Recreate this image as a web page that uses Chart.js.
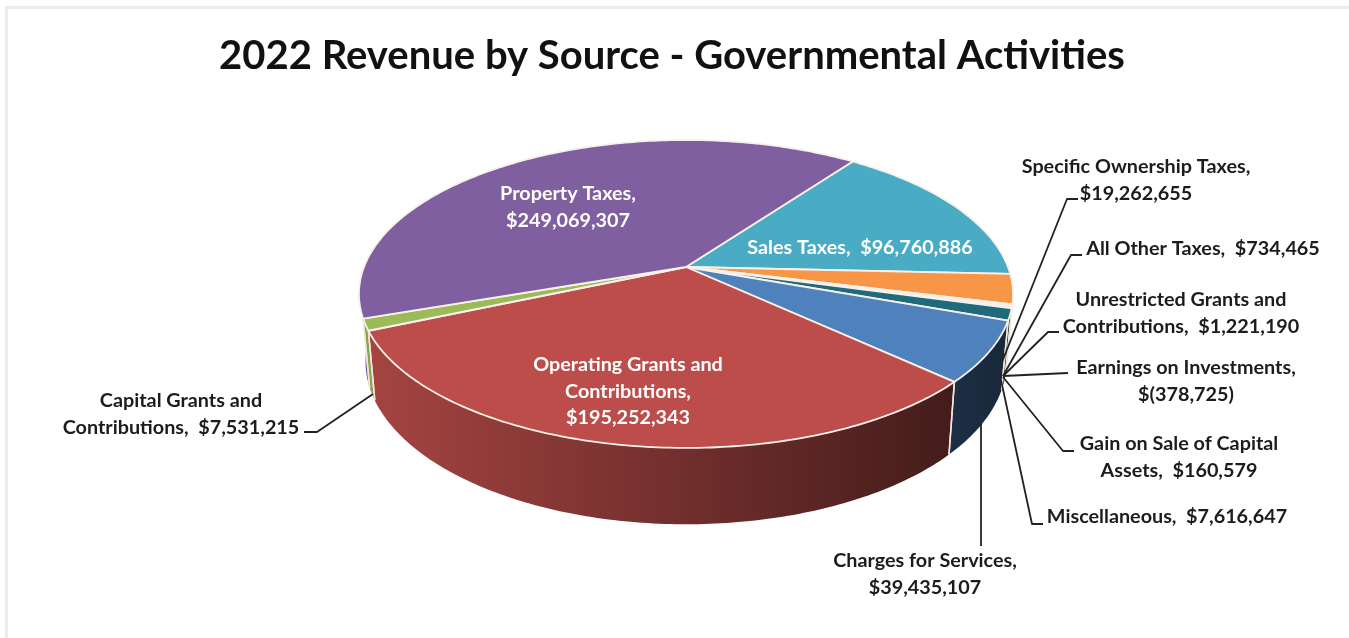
<!DOCTYPE html>
<html>
<head>
  <title>2022 Revenue by Source</title>
  <script src="https://cdn.jsdelivr.net/npm/chart.js"></script>
  <style>
    html, body { margin: 0; background: #fff; }
    #wrap { position: relative; width: 1349px; height: 638px; overflow: hidden; }
    #frame { position: absolute; left: 5px; top: 6px; width: 1341px; height: 640px; border: 3px solid #ececec; }
    canvas { position: absolute; left: 0; top: 0; }
  </style>
</head>
<body>
  <div id="wrap">
    <div id="frame"></div>
    <canvas id="myChart" width="1349" height="638"></canvas>
  </div>
  <script>
    const chartTitle = '2022 Revenue by Source - Governmental Activities';

    const categories = ['Sales Taxes', 'Specific Ownership Taxes', 'All Other Taxes',
      'Unrestricted Grants and Contributions', 'Earnings on Investments',
      'Gain on Sale of Capital Assets', 'Miscellaneous', 'Charges for Services',
      'Operating Grants and Contributions', 'Capital Grants and Contributions', 'Property Taxes'];
    const revenue = [96760886, 19262655, 734465, 1221190, -378725, 160579, 7616647,
      39435107, 195252343, 7531215, 249069307];
    const sliceColors = ['#4aabc5', '#f79646', '#e6c3a8', '#d8c8b0', '#8a8a8a', '#a9b8cf', '#1f6a7c',
      '#4f81bd', '#bc4d4a', '#9bbb59', '#7f5f9f'];

    // how each slice label wraps, {v} is the formatted amount
    const labelLines = [
      ['Sales Taxes,  {v}'],
      ['Specific Ownership Taxes,', '{v}'],
      ['All Other Taxes,  {v}'],
      ['Unrestricted Grants and', 'Contributions,  {v}'],
      ['Earnings on Investments,', '{v}'],
      ['Gain on Sale of Capital', 'Assets,  {v}'],
      ['Miscellaneous,  {v}'],
      ['Charges for Services,', '{v}'],
      ['Operating Grants and', 'Contributions,', '{v}'],
      ['Capital Grants and', 'Contributions,  {v}'],
      ['Property Taxes,', '{v}']
    ];

    // label centre x, first baseline y
    const labelSpots = [[860, 254], [1136, 173], [1203, 255], [1181, 306], [1186, 374], [1179, 450],
      [1167, 523], [925, 567], [628, 371], [181, 407], [568, 200]];
    const labelColors = ['#fff', '#1c1c1c', '#1c1c1c', '#1c1c1c', '#1c1c1c', '#1c1c1c', '#1c1c1c',
      '#1c1c1c', '#fff', '#1c1c1c', '#fff'];

    // leader polylines
    const leaders = [
      [[1002, 362], [1067, 199], [1078, 199]],
      [[1003, 376], [1071, 255], [1082, 255]],
      [[1003, 376], [1048, 332], [1059, 332]],
      [[1003, 376], [1068, 373]],
      [[1003, 377], [1063, 451], [1074, 451]],
      [[1001, 380], [1032, 524], [1043, 524]],
      [[981, 424], [981, 546]],
      [[373, 394], [317, 432], [304, 432]]
    ];

    const LABEL_FONT = 'bold 19.8px Lato';
    const LINE_GAP = 26.7;

    // tilted disc: ratios of the library's radius, k is the perspective strength
    const TILT = { rx: 1.206, ry: 0.559, k: 0.175, depth: 66 / 267, inset: 0.98 };

    function fmtMoney(v) {
      const s = Math.abs(v).toLocaleString('en-US');
      return v < 0 ? '$(' + s + ')' : '$' + s;
    }

    function topPoint(arc, t) {
      const w = 1 - TILT.k * Math.sin(t);
      return [arc.x + TILT.rx * arc.outerRadius * Math.cos(t) / w,
              arc.y + TILT.ry * arc.outerRadius * Math.sin(t) / w];
    }

    function lowPoint(arc, t) {
      const w = 1 - TILT.k * Math.sin(t);
      const f = TILT.inset;
      return [arc.x + f * TILT.rx * arc.outerRadius * Math.cos(t) / w,
              arc.y + (f * TILT.ry * Math.sin(t) + TILT.depth) * arc.outerRadius / w];
    }

    function shade(hex, f) {
      const n = parseInt(hex.slice(1), 16);
      const c = [n >> 16, (n >> 8) & 255, n & 255].map(x => Math.round(x * f));
      return 'rgb(' + c.join(',') + ')';
    }

    function rimAngles(a, b) {
      const out = [];
      const steps = Math.max(2, Math.ceil((b - a) / 0.015));
      for (let i = 0; i <= steps; i++) out.push(a + (b - a) * i / steps);
      return out;
    }

    const tiltedPie = {
      id: 'tiltedPie',
      beforeDatasetsDraw(chart) {
        const ctx = chart.ctx;
        const arcs = chart.getDatasetMeta(0).data;

        // side walls first, far ones before near ones
        const order = arcs.map((a, i) => i).sort((p, q) =>
          Math.sin((arcs[p].startAngle + arcs[p].endAngle) / 2) - Math.sin((arcs[q].startAngle + arcs[q].endAngle) / 2));
        order.forEach(i => {
          const arc = arcs[i];
          const ts = rimAngles(arc.startAngle, arc.endAngle);
          const g = ctx.createLinearGradient(370, 0, 1000, 0);
          g.addColorStop(0, shade(sliceColors[i], 0.88));
          g.addColorStop(1, shade(sliceColors[i], 0.32));
          ctx.beginPath();
          ts.forEach((t, n) => { const p = topPoint(arc, t); n ? ctx.lineTo(p[0], p[1]) : ctx.moveTo(p[0], p[1]); });
          ts.slice().reverse().forEach(t => { const p = lowPoint(arc, t); ctx.lineTo(p[0], p[1]); });
          ctx.closePath();
          ctx.fillStyle = g;
          ctx.fill();
        });

        // seams between the big slices on the wall
        ctx.strokeStyle = '#f2e6dc';
        ctx.lineWidth = 1.5;
        arcs.forEach(arc => {
          if (arc.endAngle - arc.startAngle < 0.05) return;
          [arc.startAngle, arc.endAngle].forEach(t => {
            if (Math.sin(t) < 0.05) return;
            const a = topPoint(arc, t), b = lowPoint(arc, t);
            ctx.beginPath(); ctx.moveTo(a[0], a[1]); ctx.lineTo(b[0], b[1]); ctx.stroke();
          });
        });

        // top faces
        arcs.forEach((arc, i) => {
          ctx.beginPath();
          ctx.moveTo(arc.x, arc.y);
          rimAngles(arc.startAngle, arc.endAngle).forEach(t => { const p = topPoint(arc, t); ctx.lineTo(p[0], p[1]); });
          ctx.closePath();
          ctx.fillStyle = sliceColors[i];
          ctx.fill();
          ctx.strokeStyle = '#f8f1ea';
          ctx.lineWidth = 1.8;
          ctx.lineJoin = 'round';
          ctx.stroke();
        });
        return false;
      },
      afterDraw(chart) {
        const ctx = chart.ctx;
        ctx.save();
        ctx.strokeStyle = '#222';
        ctx.lineWidth = 1.8;
        leaders.forEach(pts => {
          ctx.beginPath();
          pts.forEach((p, n) => n ? ctx.lineTo(p[0], p[1]) : ctx.moveTo(p[0], p[1]));
          ctx.stroke();
        });

        ctx.textAlign = 'center';
        ctx.textBaseline = 'alphabetic';
        ctx.font = LABEL_FONT;
        labelLines.forEach((lines, i) => {
          ctx.fillStyle = labelColors[i];
          lines.forEach((txt, n) => {
            ctx.fillText(txt.replace('{v}', fmtMoney(revenue[i])), labelSpots[i][0], labelSpots[i][1] + n * LINE_GAP);
          });
        });

        ctx.fillStyle = '#111';
        ctx.font = 'bold 40px Lato';
        ctx.fillText(chartTitle, 672, 69);
        ctx.restore();
      }
    };

    const chart = new Chart(document.getElementById('myChart').getContext('2d'), {
      type: 'pie',
      data: {
        labels: categories,
        datasets: [{ data: revenue, backgroundColor: sliceColors, borderWidth: 0 }]
      },
      options: {
        responsive: false,
        animation: false,
        rotation: 36.2,
        layout: { padding: { left: 23, bottom: 104 } },
        plugins: { legend: { display: false }, tooltip: { enabled: false } }
      },
      plugins: [tiltedPie]
    });
  </script>
</body>
</html>
